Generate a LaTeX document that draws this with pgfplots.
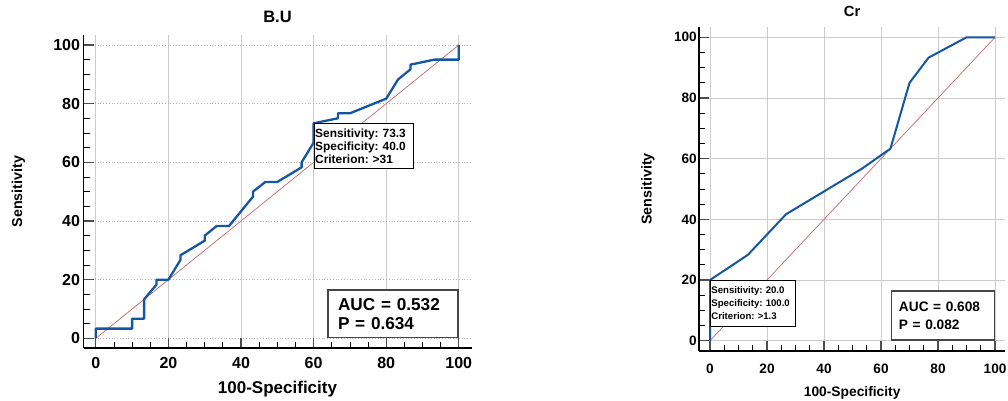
\documentclass[border=0pt]{standalone}
\usepackage{fontspec}
\setmainfont{Liberation Sans}
\usepackage{pgfplots}
\pgfplotsset{compat=1.18}
\definecolor{rocblue}{RGB}{20,86,164}
\definecolor{diagred}{RGB}{196,104,104}
\definecolor{boxgray}{RGB}{70,70,70}
\frenchspacing
\pgfplotsset{
  rocstyle/.style={
    scale only axis,
    axis x line*=bottom, axis y line*=left,
    axis line style={-, line width=1.8pt, black},
    tick align=inside,
    xtick={0,20,...,100}, ytick={0,20,...,100},
    minor tick num=3,
    major tick length=10pt, minor tick length=6pt,
    major tick style={black!70, line width=1.2pt},
    minor tick style={black, line width=0.8pt},
    grid=major,
    x grid style={gray!40, line width=0.8pt, solid},
    /pgf/number format/assume math mode=true,
    clip=false,
  }
}
\begin{document}
\begin{tikzpicture}
\path[use as bounding box] (0,0) rectangle (1008pt,401pt);
% ---------------- Left: B.U ----------------
\begin{axis}[
  rocstyle,
  at={(83.5pt,52.7pt)}, anchor=south west,
  width=388pt, height=313.3pt,
  xmin=-3.4, xmax=103.5, ymin=-3.4, ymax=103.4,
  y grid style={gray!60, line width=0.8pt, dotted},
  ticklabel style={font=\fontsize{16}{19}\selectfont\bfseries},
  xticklabel style={yshift=-5.5pt},
  title={B.U},
  title style={font=\fontsize{16.5}{19}\selectfont\bfseries, at={(axis description cs:0.5,1.021)}, anchor=base},
  xlabel={100-Specificity},
  xlabel style={font=\fontsize{17}{20}\selectfont\bfseries, at={(axis description cs:0.5,-0.1438)}, anchor=base},
  ylabel={Sensitivity},
  ylabel style={font=\fontsize{14.3}{17}\selectfont\bfseries, at={(axis description cs:-0.168,0.5)}, anchor=center, rotate=0},
]
\addplot[diagred, line width=0.7pt] coordinates {(0,0) (100,100)};
\addplot[rocblue, line width=2.3pt, line join=round] coordinates {
(0,0)(0,3.3)(10,3.3)(10,6.7)(13.3,6.7)(13.3,13.3)(16.7,18.3)(16.7,20)(20,20)
(23.3,26.7)(23.3,28.3)(30,33.3)(30,35)(33.3,38.3)(36.7,38.3)(43.3,48.3)(43.3,50)
(46.7,53.3)(50,53.3)(56.7,58.3)(56.7,60)(60,66.7)(60,73.3)(66.7,75)(66.7,76.7)
(70,76.7)(80,81.7)(83.3,88.3)(86.7,91.7)(86.7,93.3)(93.3,95)(100,95)(100,100)};
\node[draw=black, line width=0.8pt, fill=white, anchor=north west,
  align=left, text width=97pt, minimum height=45pt, inner xsep=1.2pt, inner ysep=2pt,
  font=\fontsize{11.9}{12.7}\selectfont\bfseries] at (axis cs:60,73.3)
  {Sensitivity: 73.3\\Specificity: 40.0\\Criterion: >31};
\node[draw=boxgray, line width=1.5pt, fill=white, anchor=south east,
  align=left, text width=110pt, minimum height=47.6pt, inner xsep=10pt, inner ysep=2pt,
  font=\fontsize{17.2}{19}\selectfont\bfseries] at (axis cs:100,0)
  {AUC = 0.532\\P = 0.634};
\end{axis}
% ---------------- Right: Cr ----------------
\begin{axis}[
  rocstyle,
  at={(699.3pt,50.3pt)}, anchor=south west,
  width=305.7pt, height=323.4pt,
  xmin=-3.75, xmax=103.5, ymin=-3.3, ymax=103.3,
  y grid style={gray!40, line width=0.8pt, solid},
  ticklabel style={font=\fontsize{13.6}{16}\selectfont\bfseries},
  xticklabel style={yshift=-10pt},
  yticklabel style={xshift=1pt},
  title={Cr},
  title style={font=\fontsize{14.7}{17}\selectfont\bfseries, at={(axis description cs:0.5,1.0135)}, anchor=base},
  xlabel={100-Specificity},
  xlabel style={font=\fontsize{13.8}{16}\selectfont\bfseries, at={(axis description cs:0.5,-0.143)}, anchor=base},
  ylabel={Sensitivity},
  ylabel style={font=\fontsize{14.3}{17}\selectfont\bfseries, at={(axis description cs:-0.168,0.5)}, anchor=center},
]
\addplot[diagred, line width=0.7pt] coordinates {(0,0) (100,100)};
\addplot[rocblue, line width=2pt, line join=round] coordinates {
(0,0)(0,20)(13.3,28.3)(26.7,41.7)(53.3,56.7)(63.3,63.3)(70,85)(76.7,93.3)(90,100)(100,100)};
\node[draw=black, line width=0.8pt, fill=white, anchor=north west,
  align=left, text width=83pt, minimum height=45.7pt, inner xsep=1pt, inner ysep=2pt,
  font=\fontsize{9.6}{13.3}\selectfont\bfseries] at (axis cs:0,20)
  {Sensitivity: 20.0\\Specificity: 100.0\\Criterion: >1.3};
\node[draw=boxgray, line width=1.3pt, fill=white, anchor=south east,
  align=left, text width=88pt, minimum height=49pt, inner xsep=7.4pt, inner ysep=2pt,
  font=\fontsize{13.7}{17.7}\selectfont\bfseries] at (axis cs:100,0)
  {AUC = 0.608\\P = 0.082};
\end{axis}
\end{tikzpicture}
\end{document}
